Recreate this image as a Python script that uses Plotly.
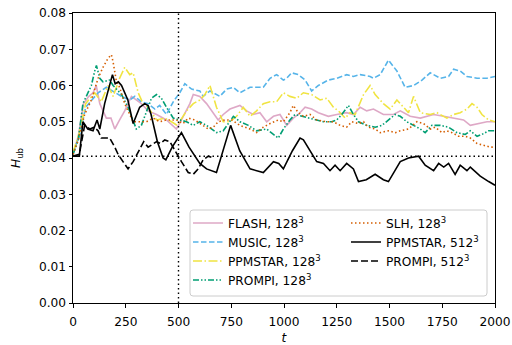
import plotly.graph_objects as go

# ---- data (t, H_ub) ----
FLASH_128 = [(0,0.041),(25,0.046),(50,0.055),(75,0.057),(95,0.058),(110,0.060),(127,0.055),(158,0.051),(180,0.051),(198,0.048),(221,0.0505),(245,0.053),(277,0.057),(300,0.056),(324,0.055),(356,0.053),(396,0.052),(443,0.0505),(490,0.048),(514,0.0505),(554,0.055),(570,0.0575),(601,0.057),(633,0.055),(672,0.052),(688,0.0505),(712,0.052),(744,0.0535),(791,0.0545),(823,0.053),(854,0.052),(886,0.0525),(918,0.050),(950,0.0515),(981,0.052),(1013,0.049),(1044,0.051),(1068,0.052),(1100,0.054),(1131,0.0535),(1163,0.0525),(1210,0.0515),(1250,0.052),(1297,0.0525),(1329,0.052),(1361,0.054),(1392,0.053),(1424,0.0535),(1471,0.052),(1519,0.052),(1551,0.053),(1598,0.0515),(1646,0.051),(1677,0.0515),(1709,0.052),(1756,0.0515),(1804,0.051),(1851,0.0505),(1883,0.049),(1930,0.0495),(1962,0.050),(2000,0.050)]

MUSIC_128 = [(0,0.0415),(30,0.046),(60,0.054),(90,0.056),(119,0.058),(158,0.0595),(198,0.058),(230,0.057),(269,0.056),(293,0.057),(324,0.0555),(356,0.055),(388,0.0535),(411,0.0545),(443,0.052),(475,0.0555),(506,0.058),(530,0.0605),(562,0.059),(601,0.0585),(617,0.057),(649,0.0585),(696,0.057),(728,0.059),(760,0.0595),(791,0.058),(839,0.0595),(878,0.0595),(902,0.0595),(934,0.062),(965,0.063),(997,0.0615),(1013,0.062),(1036,0.0635),(1068,0.063),(1100,0.0615),(1131,0.0585),(1163,0.060),(1210,0.0615),(1250,0.062),(1297,0.063),(1329,0.0625),(1361,0.063),(1408,0.0625),(1424,0.062),(1456,0.063),(1495,0.067),(1535,0.064),(1574,0.0595),(1614,0.060),(1654,0.0615),(1693,0.0635),(1725,0.0625),(1741,0.062),(1780,0.0625),(1804,0.0645),(1835,0.064),(1867,0.0625),(1915,0.062),(1962,0.062),(2000,0.0625)]

PPMSTAR_128 = [(0,0.0415),(30,0.047),(60,0.055),(103,0.058),(134,0.0555),(166,0.060),(190,0.057),(221,0.062),(245,0.065),(269,0.063),(285,0.0635),(309,0.058),(332,0.055),(356,0.054),(396,0.0505),(435,0.051),(467,0.050),(494,0.049),(538,0.053),(570,0.055),(601,0.056),(625,0.0575),(649,0.060),(680,0.054),(712,0.050),(744,0.050),(775,0.0515),(807,0.054),(839,0.0515),(870,0.053),(902,0.055),(934,0.0555),(965,0.0555),(997,0.058),(1028,0.057),(1060,0.0565),(1092,0.058),(1131,0.0575),(1171,0.056),(1203,0.0565),(1234,0.054),(1258,0.053),(1290,0.051),(1313,0.0525),(1337,0.052),(1377,0.0575),(1408,0.060),(1432,0.0575),(1471,0.055),(1503,0.0535),(1535,0.056),(1566,0.054),(1590,0.0525),(1614,0.057),(1646,0.0525),(1693,0.052),(1725,0.0525),(1772,0.051),(1804,0.052),(1835,0.0525),(1867,0.0535),(1891,0.055),(1915,0.054),(1938,0.052),(1970,0.0505),(2000,0.050)]

PROMPI_128 = [(0,0.041),(25,0.045),(47,0.055),(63,0.057),(87,0.060),(103,0.064),(111,0.0655),(127,0.062),(142,0.061),(174,0.0615),(190,0.060),(206,0.059),(230,0.0575),(261,0.054),(285,0.050),(300,0.048),(324,0.049),(348,0.053),(372,0.0565),(396,0.0575),(419,0.0565),(443,0.054),(475,0.051),(506,0.0505),(538,0.050),(570,0.049),(601,0.050),(633,0.049),(680,0.047),(712,0.0475),(744,0.050),(760,0.0515),(791,0.050),(831,0.049),(870,0.0475),(918,0.048),(950,0.0465),(973,0.0455),(997,0.048),(1028,0.0505),(1052,0.052),(1084,0.0515),(1123,0.051),(1155,0.0505),(1187,0.050),(1226,0.050),(1250,0.0505),(1274,0.052),(1305,0.0545),(1329,0.052),(1353,0.050),(1392,0.049),(1432,0.0485),(1464,0.049),(1495,0.0505),(1527,0.052),(1551,0.0515),(1582,0.050),(1614,0.049),(1646,0.048),(1669,0.047),(1701,0.049),(1741,0.049),(1780,0.0485),(1820,0.047),(1859,0.0465),(1883,0.0475),(1915,0.046),(1938,0.0465),(1970,0.0475),(2000,0.0475)]

SLH_128 = [(0,0.041),(25,0.045),(55,0.052),(87,0.056),(119,0.062),(142,0.065),(166,0.0675),(182,0.0685),(190,0.0665),(206,0.061),(221,0.0595),(245,0.055),(269,0.052),(285,0.050),(316,0.050),(348,0.050),(380,0.051),(411,0.050),(443,0.0505),(490,0.0505),(522,0.0495),(546,0.051),(577,0.0505),(617,0.049),(641,0.048),(665,0.0485),(688,0.050),(720,0.0505),(752,0.0505),(791,0.049),(839,0.048),(870,0.047),(902,0.0485),(934,0.0495),(973,0.0505),(997,0.050),(1028,0.0525),(1044,0.0545),(1068,0.0525),(1092,0.0515),(1123,0.052),(1155,0.0505),(1203,0.050),(1234,0.050),(1266,0.049),(1297,0.0485),(1321,0.050),(1353,0.0495),(1377,0.050),(1400,0.0485),(1432,0.048),(1456,0.047),(1495,0.0475),(1527,0.047),(1551,0.0475),(1590,0.048),(1630,0.050),(1661,0.0495),(1693,0.048),(1717,0.0485),(1749,0.047),(1772,0.0475),(1796,0.047),(1827,0.046),(1859,0.046),(1883,0.0455),(1915,0.044),(1946,0.0435),(1978,0.043),(2000,0.043)]

PPMSTAR_512 = [(0,0.0405),(30,0.0405),(47,0.050),(70,0.048),(95,0.0475),(114,0.0505),(127,0.048),(150,0.055),(187,0.063),(200,0.0605),(215,0.061),(230,0.060),(260,0.056),(285,0.0495),(316,0.054),(340,0.055),(356,0.0545),(370,0.052),(400,0.0445),(427,0.040),(440,0.0395),(470,0.043),(514,0.047),(550,0.043),(601,0.0385),(633,0.037),(680,0.036),(715,0.043),(747,0.049),(790,0.042),(839,0.037),(902,0.036),(950,0.039),(975,0.0385),(997,0.037),(1040,0.042),(1076,0.0455),(1092,0.045),(1155,0.039),(1187,0.0385),(1218,0.0365),(1242,0.038),(1266,0.0365),(1297,0.0385),(1329,0.037),(1353,0.0335),(1390,0.034),(1432,0.0355),(1471,0.034),(1495,0.0335),(1551,0.039),(1590,0.040),(1638,0.0405),(1669,0.038),(1709,0.0365),(1733,0.0385),(1757,0.0375),(1780,0.0385),(1811,0.0355),(1835,0.038),(1867,0.0365),(1883,0.0375),(1930,0.035),(1970,0.0335),(2000,0.0325)]

PROMPI_512 = [(0,0.0405),(30,0.041),(55,0.049),(80,0.048),(100,0.0485),(119,0.0475),(134,0.0455),(155,0.0455),(174,0.0455),(198,0.043),(214,0.041),(237,0.039),(261,0.037),(285,0.039),(316,0.0425),(335,0.0445),(356,0.043),(396,0.0445),(415,0.044),(435,0.045),(459,0.0445),(483,0.042),(514,0.039),(546,0.036),(570,0.0355),(593,0.037),(617,0.0395),(641,0.0405),(665,0.040)]

names = ["FLASH, 128<sup>3</sup>", "MUSIC, 128<sup>3</sup>", "PPMSTAR, 128<sup>3</sup>",
         "PROMPI, 128<sup>3</sup>", "SLH, 128<sup>3</sup>", "PPMSTAR, 512<sup>3</sup>",
         "PROMPI, 512<sup>3</sup>"]
series = [FLASH_128, MUSIC_128, PPMSTAR_128, PROMPI_128, SLH_128, PPMSTAR_512, PROMPI_512]
colors = ["rgba(204,121,167,0.65)", "#56B4E9", "#F0E442", "#009E73", "#D55E00", "black", "black"]
dashes = ["solid", "5.5px,2.5px", "9px,2.5px,1.5px,2.5px", "6px,2px,1.5px,2px,1.5px,2px",
          "1.5px,2.5px", "solid", "7px,3px"]
widths = [1.6, 1.6, 1.6, 1.6, 1.6, 1.6, 1.6]
legends = ["legend", "legend", "legend", "legend", "legend2", "legend2", "legend2"]

T_REF = 500
H_REF = 0.0405
X_TICKS = [0, 250, 500, 750, 1000, 1250, 1500, 1750, 2000]
Y_TICKS = [0.00, 0.01, 0.02, 0.03, 0.04, 0.05, 0.06, 0.07, 0.08]

FONT = "DejaVu Sans"
FS = 12.2

fig = go.Figure()
for name, data, c, d, w, lg in zip(names, series, colors, dashes, widths, legends):
    fig.add_trace(go.Scatter(
        x=[p[0] for p in data], y=[p[1] for p in data], mode="lines", name=name,
        line=dict(color=c, dash=d, width=w), legend=lg))

# reference lines
fig.add_trace(go.Scatter(x=[T_REF, T_REF], y=[0, 0.08], mode="lines", showlegend=False,
                         line=dict(color="black", dash="1.5px,3px", width=1.4)))
fig.add_trace(go.Scatter(x=[0, 2000], y=[H_REF, H_REF], mode="lines", showlegend=False,
                         line=dict(color="black", dash="1.5px,3px", width=1.4)))

# legend frame (rounded rectangle in paper coords)
L, R, T, B = 73, 495, 13, 303
W, H = R - L, B - T
def px(x):
    return (x - L) / W
def py(y):
    return (B - y) / H
x0, x1, y0, y1 = 190, 487, 210, 296
r = 3
path = (f"M {px(x0+r)},{py(y0)} L {px(x1-r)},{py(y0)} Q {px(x1)},{py(y0)} {px(x1)},{py(y0+r)} "
        f"L {px(x1)},{py(y1-r)} Q {px(x1)},{py(y1)} {px(x1-r)},{py(y1)} "
        f"L {px(x0+r)},{py(y1)} Q {px(x0)},{py(y1)} {px(x0)},{py(y1-r)} "
        f"L {px(x0)},{py(y0+r)} Q {px(x0)},{py(y0)} {px(x0+r)},{py(y0)} Z")
fig.add_shape(type="path", path=path, xref="paper", yref="paper",
              line=dict(color="rgb(204,204,204)", width=1),
              fillcolor="rgba(255,255,255,0.8)", layer="above")

leg_common = dict(bgcolor="rgba(0,0,0,0)", borderwidth=0, font=dict(family=FONT, size=FS, color="black"),
                  xanchor="left", yanchor="top", orientation="v", tracegroupgap=0, itemwidth=30)
fig.update_layout(
    width=512, height=345,
    margin=dict(l=L, r=512 - R, t=T, b=345 - B, autoexpand=False),
    paper_bgcolor="white", plot_bgcolor="white",
    font=dict(family=FONT, size=FS, color="black"),
    legend=dict(x=px(188), y=py(208.5), **leg_common),
    legend2=dict(x=px(346), y=py(208.5), **leg_common),
    xaxis=dict(range=[0, 2000], tickvals=X_TICKS, ticks="outside", ticklen=3.5, tickwidth=1,
               tickcolor="black", showline=True, linecolor="black", linewidth=1, mirror=True,
               showgrid=False, zeroline=False, tickfont=dict(family=FONT, size=FS), automargin=False,
               ticklabelstandoff=4,
               title=dict(text="<i>t</i>", standoff=8, font=dict(family=FONT, size=FS))),
    yaxis=dict(range=[0, 0.08], tickvals=Y_TICKS, tickformat=".2f", ticks="outside", ticklen=3.5,
               tickwidth=1, tickcolor="black", showline=True, linecolor="black", linewidth=1,
               mirror=True, showgrid=False, zeroline=False, tickfont=dict(family=FONT, size=FS),
               automargin=False,
               title=dict(text="<i>H</i><sub>ub</sub>", standoff=15, font=dict(family=FONT, size=FS))),
)

fig.write_html("out.html")
